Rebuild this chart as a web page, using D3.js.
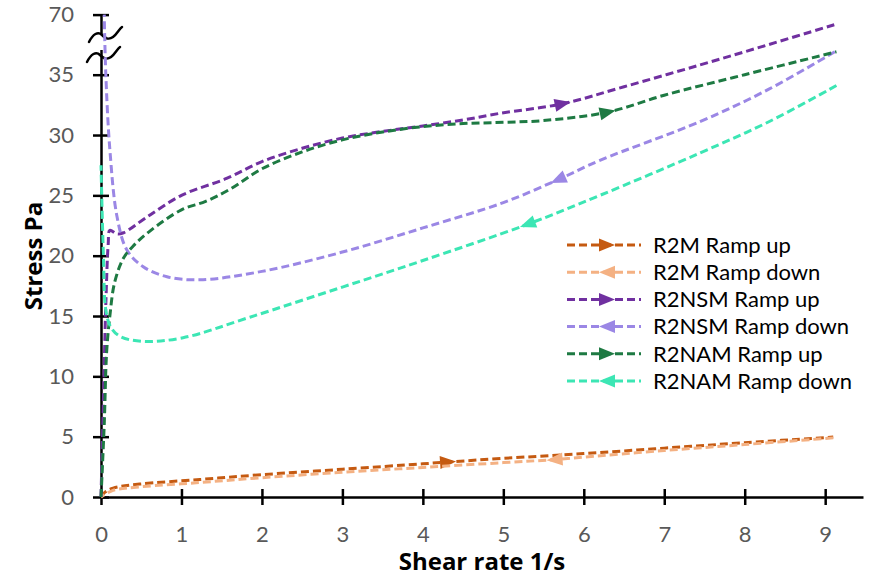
<!DOCTYPE html>
<html>
<head>
<meta charset="utf-8">
<script src="https://cdn.jsdelivr.net/npm/d3@7"></script>
<style>
  html, body { margin: 0; padding: 0; background: #fff; }
  svg { display: block; }
  text { font-family: Lato, "Open Sans", sans-serif; }
</style>
</head>
<body>
<svg id="chart" width="869" height="582"></svg>
<script>
// Flow curves: shear stress (Pa) against shear rate (1/s), ramp up and ramp down
const seriesNames = ["R2M Ramp up", "R2M Ramp down", "R2NSM Ramp up", "R2NSM Ramp down", "R2NAM Ramp up", "R2NAM Ramp down"];
const seriesColors = ["#C55A11", "#F4B183", "#7030A0", "#9B87E5", "#1E7A43", "#3CE6B4"];

// shear rate, in measurement order
const r2mUpX   = [0, 0.05, 0.15, 0.48, 1.23, 2, 3, 4, 4.31, 5, 6, 7, 8, 9.1];
const r2mUpY   = [0, 0.4, 0.74, 1.07, 1.45, 1.85, 2.3, 2.75, 2.9, 3.2, 3.6, 4.05, 4.5, 4.97];
const r2mDownX = [9.1, 8, 7, 6, 5.64, 5, 4, 3, 2, 1.23, 0.5, 0.15, 0];
const r2mDownY = [4.9, 4.35, 3.85, 3.3, 3.1, 2.85, 2.45, 2.05, 1.6, 1.2, 0.85, 0.55, 0];

const nsmUpX   = [0, 0.03, 0.06, 0.09, 0.11, 0.2, 0.28, 0.57, 1.0, 1.56, 2, 2.5, 3, 3.5, 4, 4.5, 4.96, 5.74, 6.5, 7.44, 8.3, 9.14];
const nsmUpY   = [0, 8, 16, 21, 22.1, 21.8, 21.9, 23.2, 25.0, 26.4, 27.8, 28.9, 29.75, 30.3, 30.75, 31.25, 31.8, 32.6, 34.0, 35.8, 37.5, 39.2];
const nsmDownX = [9.12, 8.3, 7.44, 6.2, 5.68, 5, 4, 3, 2, 1.23, 0.82, 0.52, 0.32, 0.2, 0.11, 0.06, 0.04];
const nsmDownY = [36.9, 33.8, 31.1, 27.9, 26.3, 24.4, 22.3, 20.3, 18.7, 18.0, 18.25, 19.1, 20.5, 23.2, 28.8, 35, 70];

const namUpX   = [0, 0.04, 0.07, 0.11, 0.17, 0.28, 0.4, 0.6, 1.0, 1.3, 1.6, 2, 2.5, 3, 3.5, 4, 4.5, 5, 5.5, 6.3, 7, 8, 9.14];
const namUpY   = [0, 6, 12, 15, 17.8, 19.8, 20.8, 22.0, 23.8, 24.5, 25.5, 27.2, 28.6, 29.6, 30.25, 30.7, 30.95, 31.05, 31.2, 31.9, 33.3, 35.0, 36.9];
const namDownX = [9.14, 8.3, 7.44, 6.2, 5.3, 4, 3, 1.85, 1.02, 0.52, 0.24, 0.12, 0.06, 0.03, 0];
const namDownY = [34.1, 31.1, 28.5, 25.0, 22.6, 19.6, 17.4, 14.9, 13.2, 12.9, 13.3, 14.1, 15.5, 20, 27.5];

// shear rate at which each curve carries its direction arrow
const arrowAtX = [4.31, 5.64, 5.74, 5.68, 6.3, 5.3];

const xTicks = [0, 1, 2, 3, 4, 5, 6, 7, 8, 9];
const yTicks = [0, 5, 10, 15, 20, 25, 30, 35, 70];

const seriesX = [r2mUpX, r2mDownX, nsmUpX, nsmDownX, namUpX, namDownX];
const seriesY = [r2mUpY, r2mDownY, nsmUpY, nsmDownY, namUpY, namDownY];
const series = seriesNames.map((name, i) => ({
  name, color: seriesColors[i], arrowX: arrowAtX[i],
  points: seriesX[i].map((x, j) => ({ x, y: seriesY[i][j] }))
}));

const svg = d3.select("#chart");

// linear up to ~40 Pa, then the broken segment squeezes the rest up to 70
const x = d3.scaleLinear().domain([0, 9.47]).range([101, 863]);
const y = d3.scaleLinear().domain([0, 39.6, 70]).range([497, 19.2, 14.6]);

const tickColor = "#595959";

// y axis
const yAxis = svg.append("g").attr("transform", `translate(${x(0)},0)`)
  .call(d3.axisLeft(y).tickValues(yTicks).tickSizeOuter(0).tickSizeInner(8).tickPadding(19));
yAxis.select(".domain").attr("stroke", "#000").attr("stroke-width", 2.5);
yAxis.selectAll(".tick line").attr("x1", -8).attr("x2", 8).attr("stroke", "#000").attr("stroke-width", 2.5);
yAxis.selectAll(".tick text").attr("fill", tickColor).style("font-size", "22px").style("font-family", "Lato, sans-serif");

// x axis
const xAxis = svg.append("g").attr("transform", `translate(0,${y(0)})`)
  .call(d3.axisBottom(x).tickValues(xTicks).tickFormat(d3.format("d")).tickSizeOuter(0).tickSizeInner(8).tickPadding(21));
xAxis.select(".domain").attr("stroke", "#000").attr("stroke-width", 2.5);
xAxis.selectAll(".tick line").attr("y1", -8).attr("y2", 8).attr("stroke", "#000").attr("stroke-width", 2.5);
xAxis.selectAll(".tick text").attr("fill", tickColor).style("font-size", "22px").style("font-family", "Lato, sans-serif");

// axis break on the stress axis
const breakG = svg.append("g");
breakG.append("rect").attr("x", x(0) - 3).attr("y", 34).attr("width", 5).attr("height", 16).attr("fill", "#fff");
const squiggle = "M-16,7 C-12,-1 -7,-4 -3,0 S4,5 8,2 S14,-6 17,-8";
[[x(0) + 4, 35], [x(0) + 2, 55]].forEach(([cx, cy]) => {
  breakG.append("path").attr("d", squiggle)
    .attr("transform", `translate(${cx},${cy})`)
    .attr("fill", "none").attr("stroke", "#000").attr("stroke-width", 2.5).attr("stroke-linecap", "round");
});

// axis titles
svg.append("text").attr("x", 482).attr("y", 570).attr("text-anchor", "middle")
  .style("font-family", "'Open Sans', sans-serif")
  .style("font-size", "24px").style("font-weight", "bold").attr("fill", "#000").text("Shear rate 1/s");
svg.append("text").attr("transform", "translate(42,256) rotate(-90)").attr("text-anchor", "middle")
  .style("font-family", "'Open Sans', sans-serif")
  .style("font-size", "24px").style("font-weight", "bold").attr("fill", "#000").text("Stress Pa");

// curves
const line = d3.line().x(d => x(d.x)).y(d => y(d.y)).curve(d3.curveCatmullRom.alpha(0.5));
const arrowShape = "M8,0 L-8,-6.5 L-8,6.5 Z";
const plot = svg.append("g");

series.forEach(s => {
  const path = plot.append("path").datum(s.points).attr("d", line)
    .attr("fill", "none").attr("stroke", s.color).attr("stroke-width", 3)
    .attr("stroke-dasharray", "8,4");
  const node = path.node();
  const total = node.getTotalLength();
  const target = x(s.arrowX);
  let best = 0, bestD = Infinity;
  for (let l = 0; l <= total; l += 0.5) {
    const p = node.getPointAtLength(l);
    const d = Math.abs(p.x - target);
    if (d < bestD) { bestD = d; best = l; }
  }
  const p = node.getPointAtLength(best);
  const p0 = node.getPointAtLength(Math.max(0, best - 3));
  const p1 = node.getPointAtLength(Math.min(total, best + 3));
  const ang = Math.atan2(p1.y - p0.y, p1.x - p0.x) * 180 / Math.PI;
  plot.append("path").attr("d", arrowShape)
    .attr("transform", `translate(${p.x},${p.y}) rotate(${ang})`)
    .attr("fill", s.color);
});

// legend
const legend = svg.append("g");
series.forEach((s, i) => {
  const ly = 245 + i * 27.2;
  const g = legend.append("g").attr("transform", `translate(0,${ly})`);
  g.append("line").attr("x1", 567).attr("x2", 641).attr("y1", 0).attr("y2", 0)
    .attr("stroke", s.color).attr("stroke-width", 3).attr("stroke-dasharray", "8,4");
  const up = i % 2 === 0;
  g.append("path").attr("d", arrowShape)
    .attr("transform", `translate(607,0) rotate(${up ? 0 : 180})`).attr("fill", s.color);
  g.append("text").attr("x", 653).attr("y", 0).attr("dy", "0.35em")
    .style("font-size", "22px").attr("fill", "#000").text(s.name);
});
</script>
</body>
</html>
